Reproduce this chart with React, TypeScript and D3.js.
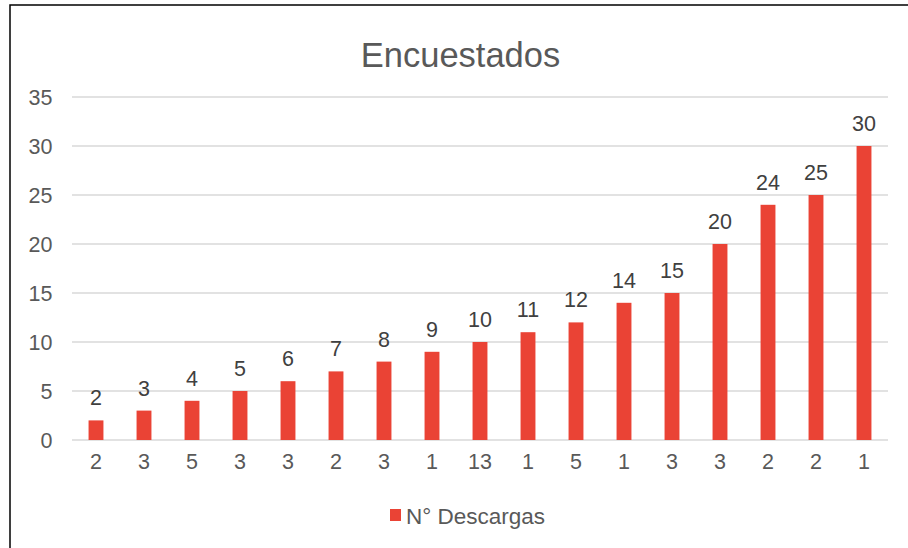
import React from "react";
import * as d3 from "d3";

const categories = ["2","3","5","3","3","2","3","1","13","1","5","1","3","3","2","2","1"];
const values = [2,3,4,5,6,7,8,9,10,11,12,14,15,20,24,25,30];
const yTicks = [0,5,10,15,20,25,30,35];
const seriesName = "N° Descargas";
const title = "Encuestados";

export default function App() {
  const W = 908, H = 548;
  const left = 72, right = 888, top = 97, bottom = 440;
  const x = d3.scaleBand<number>().domain(d3.range(categories.length)).range([left, right]).paddingInner(0.69).paddingOuter(0.345);
  const y = d3.scaleLinear().domain([0, 35]).range([bottom, top]);
  const red = "#EA4335";
  const gray = "#595959";
  const font = "Liberation Sans, Arial, sans-serif";
  const fs = 21.5;
  return (
    <svg width={W} height={H} style={{ position: "absolute", left: 0, top: 0, background: "#fff" }} fontFamily={font}>
      <rect x={0} y={0} width={W} height={H} fill="#fff" />
      <rect x={10} y={5} width={W + 10} height={H + 10} fill="none" stroke="#000" strokeWidth={1.5} />
      <text x={460.5} y={67} textAnchor="middle" fontSize={34.5} fill={gray}>{title}</text>
      {yTicks.map(t => (
        <g key={t}>
          <line x1={left} x2={right} y1={y(t)} y2={y(t)} stroke="#d9d9d9" strokeWidth={1.5} />
          <text x={52.5} y={y(t) + 8} textAnchor="end" fontSize={fs} fill={gray}>{t}</text>
        </g>
      ))}
      {values.map((v, i) => (
        <g key={i}>
          <rect x={x(i)} y={y(v)} width={x.bandwidth()} height={y(0) - y(v)} fill={red} />
          <text x={(x(i) as number) + x.bandwidth() / 2} y={y(v) - 15} textAnchor="middle" fontSize={fs} fill="#404040">{v}</text>
          <text x={(x(i) as number) + x.bandwidth() / 2} y={469} textAnchor="middle" fontSize={fs} fill={gray}>{categories[i]}</text>
        </g>
      ))}
      <rect x={390} y={509} width={11} height={12} fill={red} />
      <text x={406} y={524} fontSize={22.5} fill={gray}>{seriesName}</text>
    </svg>
  );
}
